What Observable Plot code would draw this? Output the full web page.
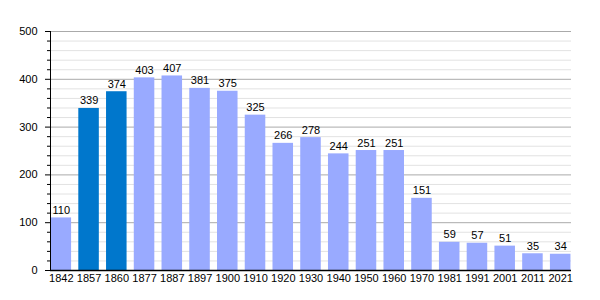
<!DOCTYPE html>
<html>
<head>
<meta charset="utf-8">
<script src="https://cdn.jsdelivr.net/npm/d3@7"></script>
<script src="https://cdn.jsdelivr.net/npm/@observablehq/plot@0.6"></script>
<style>
  body { margin: 0; background: #fff; }
  svg { font-family: "Liberation Sans", Arial, sans-serif; }
</style>
</head>
<body>
<div id="chart"></div>
<script>
const years = ["1842","1857","1860","1877","1887","1897","1900","1910","1920","1930","1940","1950","1960","1970","1981","1991","2001","2011","2021"];
const population = [110,339,374,403,407,381,375,325,266,278,244,251,251,151,59,57,51,35,34];
const highlighted = ["1857","1860"];
const majorTicks = [0,100,200,300,400,500];
const minorTicks = d3.range(0, 501, 20).filter(v => v % 100 !== 0);

const data = years.map((y, i) => ({year: y, pop: population[i], dark: highlighted.includes(y)}));

const chart = Plot.plot({
  width: 600,
  height: 300,
  marginLeft: 50,
  marginRight: 29,
  marginTop: 31,
  marginBottom: 30,
  style: {fontFamily: "Liberation Sans, Arial, sans-serif", fontSize: "11px", background: "#fff"},
  x: {domain: years, paddingInner: 0.26, paddingOuter: 0.02, round: false, label: null},
  y: {domain: [0, 500], label: null},
  marks: [
    Plot.ruleY(minorTicks, {stroke: "#e2e2e2", strokeWidth: 1}),
    Plot.ruleY(majorTicks, {stroke: "#aaaaaa", strokeWidth: 1}),
    Plot.barY(data, {x: "year", y: "pop", fill: d => d.dark ? "#0077cc" : "#99aaff"}),
    Plot.text(data, {x: "year", y: "pop", text: d => String(d.pop), lineAnchor: "bottom", dy: -4, fill: "#000", fontSize: 11}),
    Plot.axisY(majorTicks, {tickSize: 5, tickPadding: 8, tickFormat: d => String(d), fontSize: 11, fill: "#000", stroke: "#000"}),
    Plot.axisY(minorTicks, {tickSize: 3, text: null, stroke: "#000"}),
    Plot.axisX({tickSize: 0, tickPadding: 4, fontSize: 11, fill: "#000"}),
    Plot.frame({anchor: "left", stroke: "#000"}),
    Plot.ruleY([0], {stroke: "#000", strokeWidth: 1.5})
  ]
});
document.getElementById("chart").appendChild(chart);
</script>
</body>
</html>
